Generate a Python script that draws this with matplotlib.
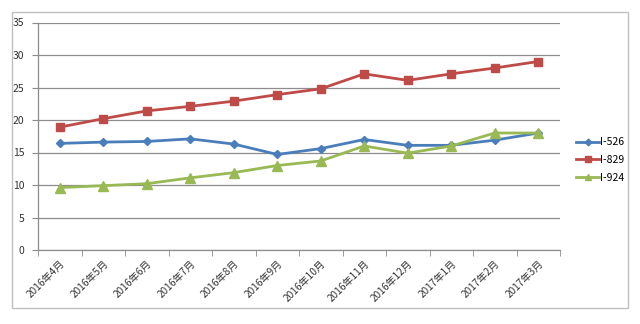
import matplotlib.pyplot as plt
from matplotlib.patches import Rectangle

plt.rcParams['font.family'] = ['Noto Sans CJK SC', 'DejaVu Sans']

months = ['2016年4月', '2016年5月', '2016年6月', '2016年7月', '2016年8月', '2016年9月',
          '2016年10月', '2016年11月', '2016年12月', '2017年1月', '2017年2月', '2017年3月']
i526 = [16.4, 16.6, 16.7, 17.1, 16.3, 14.7, 15.6, 17.0, 16.1, 16.1, 16.9, 18.0]
i829 = [18.9, 20.2, 21.4, 22.1, 22.9, 23.9, 24.8, 27.1, 26.1, 27.1, 28.0, 29.0]
i924 = [9.6, 9.9, 10.2, 11.1, 11.9, 13.0, 13.7, 16.0, 14.9, 16.0, 18.0, 18.0]

series = [
    ('I-526', i526, '#4A7EBB', 'D', 4.5),
    ('I-829', i829, '#BE4B48', 's', 6),
    ('I-924', i924, '#98B954', '^', 6.5),
]

fig = plt.figure(figsize=(6.4, 3.24), dpi=100)
fig.patch.set_facecolor('white')

# outer chart frame
fig.patches.append(Rectangle((12 / 640, 16 / 324), 616 / 640, 296 / 324,
                             transform=fig.transFigure, fill=False,
                             edgecolor='#BFBFBF', linewidth=1.0))

ax = fig.add_axes([38 / 640, 74 / 324, 522 / 640, 227.5 / 324])
x = list(range(len(months)))

for name, vals, color, mk, ms in series:
    ax.plot(x, vals, color=color, linewidth=2, marker=mk, markersize=ms,
            markerfacecolor=color, markeredgecolor=color, label=name)

ax.set_xlim(-0.5, len(months) - 0.5)
ax.set_ylim(0, 35)
ax.set_yticks(range(0, 36, 5))
ax.yaxis.grid(True, color='#8C8C8C', linewidth=0.9)
ax.set_axisbelow(True)

ax.set_xticks(x)
ax.set_xticklabels(months, rotation=45, ha='right', va='top',
                   rotation_mode='anchor', fontsize=7.3, color='#333333')
ax.set_xticks([i - 0.5 for i in range(len(months) + 1)], minor=True)
ax.tick_params(axis='x', which='major', length=0, pad=6)
ax.tick_params(axis='x', which='minor', length=4, color='#8C8C8C', direction='out')
ax.tick_params(axis='y', length=4, color='#8C8C8C', labelsize=7.5,
               labelcolor='#333333', pad=6)

for side in ['top', 'right']:
    ax.spines[side].set_visible(False)
for side in ['left', 'bottom']:
    ax.spines[side].set_color('#8C8C8C')
    ax.spines[side].set_linewidth(0.9)

ax.legend(loc='center left', bbox_to_anchor=(1.013, 0.395), frameon=False,
          fontsize=7.5, handlelength=2.2, handletextpad=0.1, labelspacing=0.75,
          markerscale=0.75)

fig.savefig('out.png', dpi=100, facecolor='white')
